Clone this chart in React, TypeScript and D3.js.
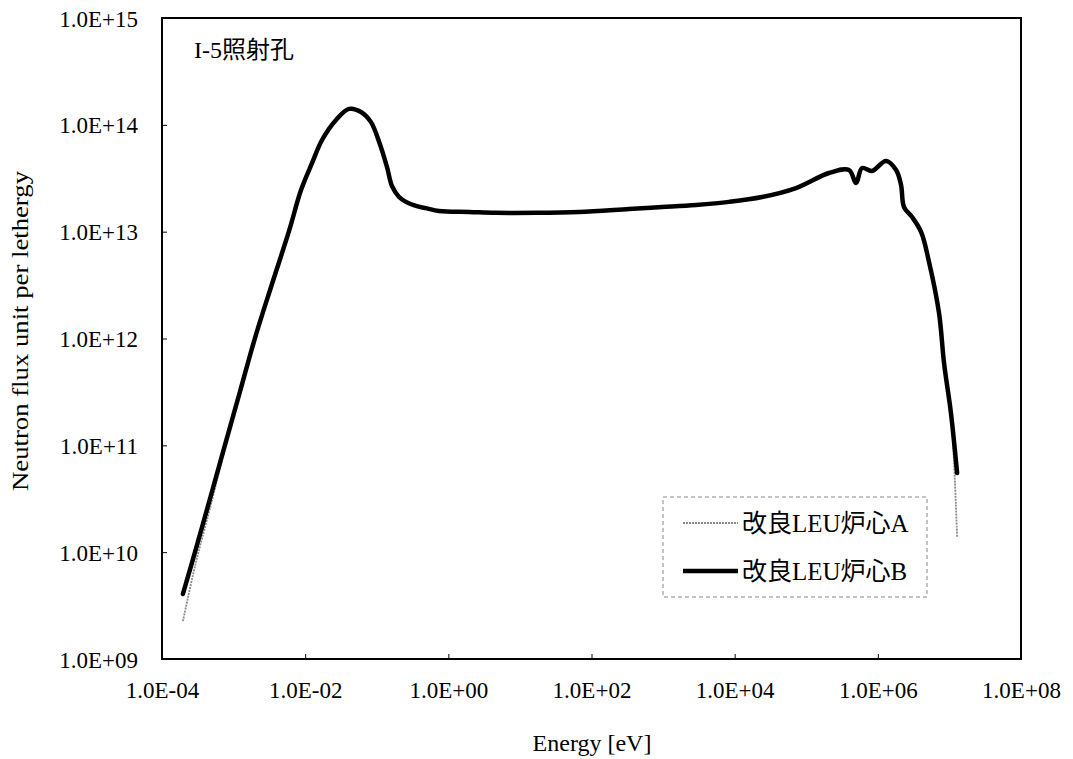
import { useEffect, useRef } from 'react';
import * as d3 from 'd3';

// energy grid [eV]
const energy = [
  1.96e-4, 2.89e-4, 4.69e-4, 7.59e-4, 1.23e-3, 1.99e-3, 3.44e-3, 5.94e-3, 8.75e-3, 1.25e-2,
  1.72e-2, 2.7e-2, 4.1e-2, 6.03e-2, 8.31e-2, 0.108, 0.139, 0.163, 0.205, 0.256,
  0.353, 0.488, 0.741, 1.95, 4.64, 16.8, 67, 334, 966, 2880,
  8340, 2.41e4, 7.19e4, 2.08e5, 3.96e5, 4.96e5, 6.02e5, 8.3e5, 1.3e6, 1.8e6,
  2.11e6, 2.32e6, 3.01e6, 4.02e6, 5.19e6, 7.16e6, 8.41e6, 1.05e7, 1.28e7,
];

// 改良LEU炉心B (thick black)
const fluxB = [
  4.06e9, 1.0e10, 3.18e10, 1.01e11, 3.19e11, 1.01e12, 3.24e12, 1.01e13, 2.45e13, 4.4e13,
  7.21e13, 1.11e14, 1.41e14, 1.32e14, 1.06e14, 6.9e13, 4.03e13, 2.68e13, 2.11e13, 1.9e13,
  1.74e13, 1.66e13, 1.56e13, 1.53e13, 1.5e13, 1.5e13, 1.53e13, 1.63e13, 1.7e13, 1.78e13,
  1.9e13, 2.11e13, 2.56e13, 3.54e13, 3.78e13, 2.85e13, 3.94e13, 3.7e13, 4.59e13, 3.78e13,
  2.74e13, 1.7e13, 1.37e13, 9.93e12, 5.2e12, 1.73e12, 5.9e11, 2.01e11, 5.51e10,
];

// 改良LEU炉心A (thin grey), same as B except at both ends
const fluxA = [
  2.26e9, 7.4e9, 2.59e10, 9.4e10, 3.19e11, 1.01e12, 3.24e12, 1.01e13, 2.45e13, 4.4e13,
  7.21e13, 1.11e14, 1.41e14, 1.32e14, 1.06e14, 6.9e13, 4.03e13, 2.68e13, 2.11e13, 1.9e13,
  1.74e13, 1.66e13, 1.56e13, 1.53e13, 1.5e13, 1.5e13, 1.53e13, 1.63e13, 1.7e13, 1.78e13,
  1.9e13, 2.11e13, 2.56e13, 3.54e13, 3.78e13, 2.85e13, 3.94e13, 3.7e13, 4.59e13, 3.78e13,
  2.74e13, 1.7e13, 1.37e13, 9.93e12, 5.2e12, 1.73e12, 5.9e11, 2.01e11, 1.39e10,
];

const xTicks = [1e-4, 1e-2, 1e0, 1e2, 1e4, 1e6, 1e8];
const yTicks = [1e9, 1e10, 1e11, 1e12, 1e13, 1e14, 1e15];

const seriesNames = ['改良LEU炉心A', '改良LEU炉心B'];

const SERIF = "'Liberation Serif', 'DejaVu Serif', 'Noto Sans CJK JP', serif";

const fmtExp = (d: number) => {
  const e = Math.round(Math.log10(d));
  return `1.0E${e < 0 ? '-' : '+'}${String(Math.abs(e)).padStart(2, '0')}`;
};

export default function App() {
  const svgRef = useRef<SVGSVGElement>(null);

  useEffect(() => {
    if (!svgRef.current) return;
    const width = 1073;
    const height = 759;
    const margin = { top: 18, right: 52, bottom: 100, left: 162 };
    const innerWidth = width - margin.left - margin.right;
    const innerHeight = height - margin.top - margin.bottom;

    const svg = d3.select(svgRef.current);
    svg.selectAll('*').remove();

    const g = svg.append('g').attr('transform', `translate(${margin.left},${margin.top})`);

    const x = d3.scaleLog().domain([1e-4, 1e8]).range([0, innerWidth]);
    const y = d3.scaleLog().domain([1e9, 1e15]).range([innerHeight, 0]);

    // axes, ticks point inwards
    const xAxis = g
      .append('g')
      .attr('transform', `translate(0,${innerHeight})`)
      .call(d3.axisBottom(x).tickValues(xTicks).tickFormat((d) => fmtExp(+d)).tickSizeInner(-5).tickSizeOuter(0));
    xAxis.select('.domain').remove();
    xAxis.selectAll('line').attr('stroke', '#000').attr('stroke-width', 1);
    xAxis
      .selectAll('text')
      .attr('y', 31)
      .attr('dy', '0.35em')
      .attr('fill', '#000')
      .style('font-family', SERIF)
      .style('font-size', '23px');

    const yAxis = g
      .append('g')
      .call(d3.axisLeft(y).tickValues(yTicks).tickFormat((d) => fmtExp(+d)).tickSizeInner(-5).tickSizeOuter(0));
    yAxis.select('.domain').remove();
    yAxis.selectAll('line').attr('stroke', '#000').attr('stroke-width', 1);
    yAxis
      .selectAll('text')
      .attr('x', -24)
      .attr('dy', '0.35em')
      .attr('fill', '#000')
      .style('font-family', SERIF)
      .style('font-size', '23px');

    // frame
    g.append('rect')
      .attr('width', innerWidth)
      .attr('height', innerHeight)
      .attr('fill', 'none')
      .attr('stroke', '#000')
      .attr('stroke-width', 2);

    const line = (vals: number[]) =>
      d3
        .line<number>()
        .x((_, i) => x(energy[i]))
        .y((d) => y(d))
        .curve(d3.curveCatmullRom.alpha(0.5))(vals);

    g.append('path')
      .attr('d', line(fluxA))
      .attr('fill', 'none')
      .attr('stroke', '#8a8a8a')
      .attr('stroke-width', 1.8)
      .attr('stroke-dasharray', '2,1');

    g.append('path')
      .attr('d', line(fluxB))
      .attr('fill', 'none')
      .attr('stroke', '#000')
      .attr('stroke-width', 4.5)
      .attr('stroke-linejoin', 'round')
      .attr('stroke-linecap', 'round');

    // title inside plot
    svg
      .append('text')
      .attr('x', 194)
      .attr('y', 58)
      .attr('font-family', SERIF)
      .attr('font-size', 24)
      .attr('fill', '#000')
      .text('I-5照射孔');

    // axis titles
    svg
      .append('text')
      .attr('x', 592)
      .attr('y', 751)
      .attr('text-anchor', 'middle')
      .attr('font-family', SERIF)
      .attr('font-size', 24)
      .attr('fill', '#000')
      .text('Energy [eV]');

    svg
      .append('text')
      .attr('transform', 'rotate(-90)')
      .attr('x', -331)
      .attr('y', 28)
      .attr('text-anchor', 'middle')
      .attr('font-family', SERIF)
      .attr('font-size', 24)
      .attr('textLength', 320)
      .attr('lengthAdjust', 'spacingAndGlyphs')
      .attr('fill', '#000')
      .text('Neutron flux unit per lethergy');

    // legend
    const legend = svg.append('g').attr('transform', 'translate(663,497)');
    legend
      .append('rect')
      .attr('width', 264)
      .attr('height', 100)
      .attr('fill', '#fff')
      .attr('stroke', '#888')
      .attr('stroke-width', 1)
      .attr('stroke-dasharray', '4,3');

    seriesNames.forEach((name, i) => {
      const ly = 26 + i * 48;
      legend
        .append('line')
        .attr('x1', 20)
        .attr('x2', 75)
        .attr('y1', ly)
        .attr('y2', ly)
        .attr('stroke', i === 0 ? '#8a8a8a' : '#000')
        .attr('stroke-width', i === 0 ? 1.8 : 4.5)
        .attr('stroke-dasharray', i === 0 ? '2,1' : null);
      legend
        .append('text')
        .attr('x', 79)
        .attr('y', ly)
        .attr('dy', '0.35em')
        .attr('font-family', SERIF)
        .attr('font-size', 25)
        .attr('fill', '#000')
        .text(name);
    });
  }, []);

  return (
    <svg
      ref={svgRef}
      width={1073}
      height={759}
      style={{ position: 'absolute', left: 0, top: 0, background: '#fff' }}
    />
  );
}
